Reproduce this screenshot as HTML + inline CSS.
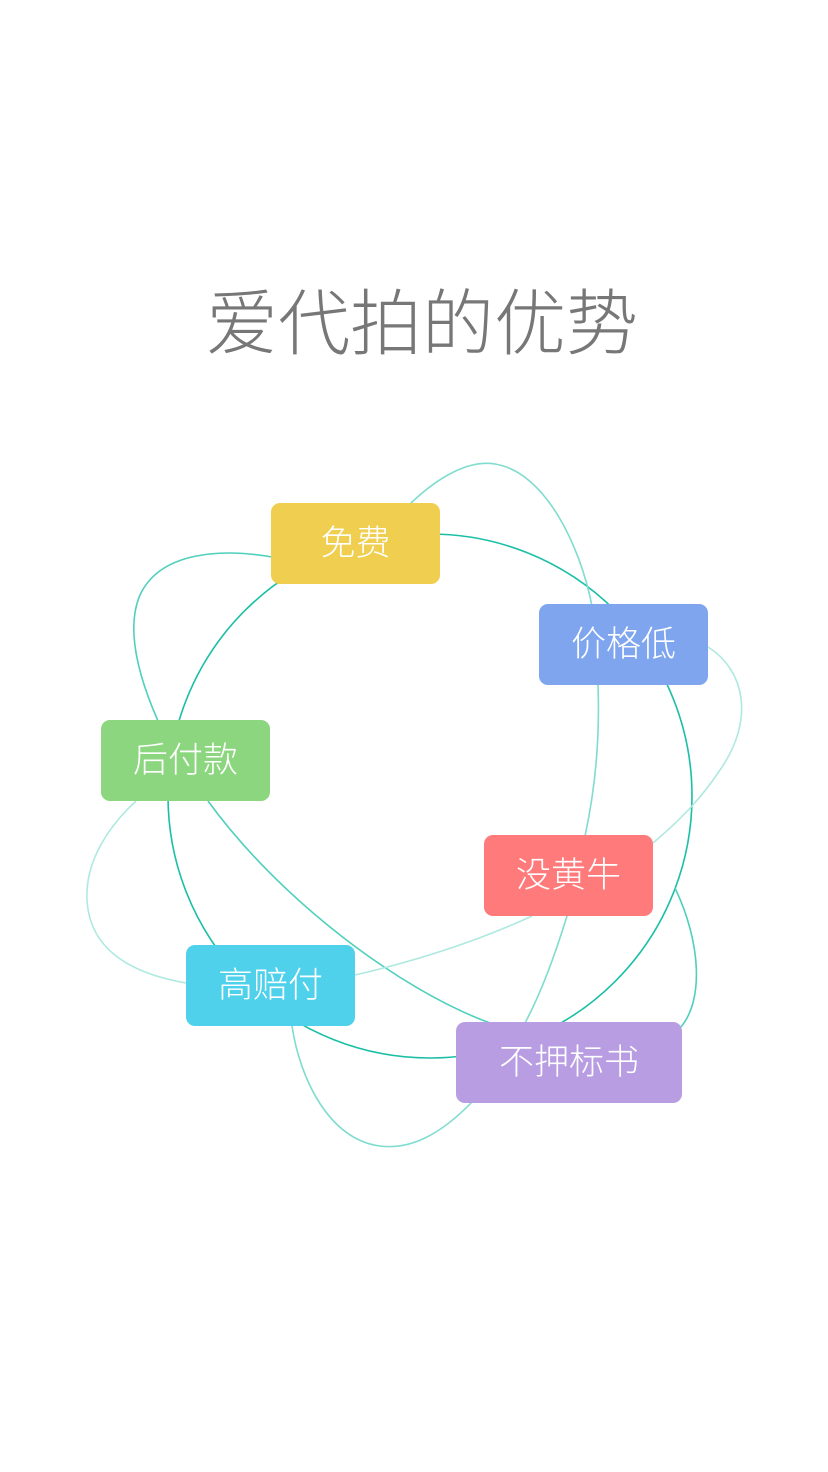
<!DOCTYPE html>
<html><head><meta charset="utf-8"><style>
html,body{margin:0;padding:0;background:#fff}
body{width:828px;height:1472px;position:relative;overflow:hidden;font-family:"Liberation Sans","Noto Sans CJK SC",sans-serif}
.t{position:absolute;left:0;width:828px;top:265px;text-align:center;font-size:72px;color:#777;font-weight:300;letter-spacing:0px;padding-left:8px}
.b{position:absolute;height:81px;border-radius:9px;color:#fff;font-size:35px;line-height:81px;text-align:center;font-weight:300}
svg{position:absolute;left:0;top:0}
</style></head><body>
<div class="t">爱代拍的优势</div>
<svg width="828" height="1472" fill="none">
<circle cx="430" cy="796" r="262" stroke="#1bbfa5" stroke-width="1.6"/>
<g stroke="#7fdccf" stroke-width="1.6">
<path d="M410,504 C440,475 470,460 495,464 C545,472 580,545 592,606"/>
<path d="M598,685 C600,740 595,790 585,836"/>
<path d="M567,916 C555,955 540,995 525,1023"/>
<path d="M472,1102 C440,1135 410,1150 380,1146 C330,1140 300,1080 292,1026"/>
</g>
<g stroke="#4fd0bc" stroke-width="1.6">
<path d="M272,557 C220,548 160,552 140,595 C125,630 140,680 158,721"/>
<path d="M208,801 C280,900 400,990 490,1023"/>
<path d="M680,1028 C705,1000 700,940 675,888"/>
</g>
<g stroke="#aee9e0" stroke-width="1.6">
<path d="M708,647 C745,670 755,720 720,770 C700,800 680,820 653,843"/>
<path d="M532,916 C480,940 420,960 355,975"/>
<path d="M186,983 C140,975 90,955 87,900 C85,860 110,825 136,801"/>
</g>
</svg>
<div class="b" style="left:271px;top:503px;width:169px;background:#f0cf50">免费</div>
<div class="b" style="left:539px;top:604px;width:169px;background:#7fa5ee">价格低</div>
<div class="b" style="left:101px;top:720px;width:169px;background:#8cd680">后付款</div>
<div class="b" style="left:484px;top:835px;width:169px;background:#ff7b7b">没黄牛</div>
<div class="b" style="left:186px;top:945px;width:169px;background:#4fd1ec">高赔付</div>
<div class="b" style="left:456px;top:1022px;width:226px;background:#b89de2">不押标书</div>
</body></html>
